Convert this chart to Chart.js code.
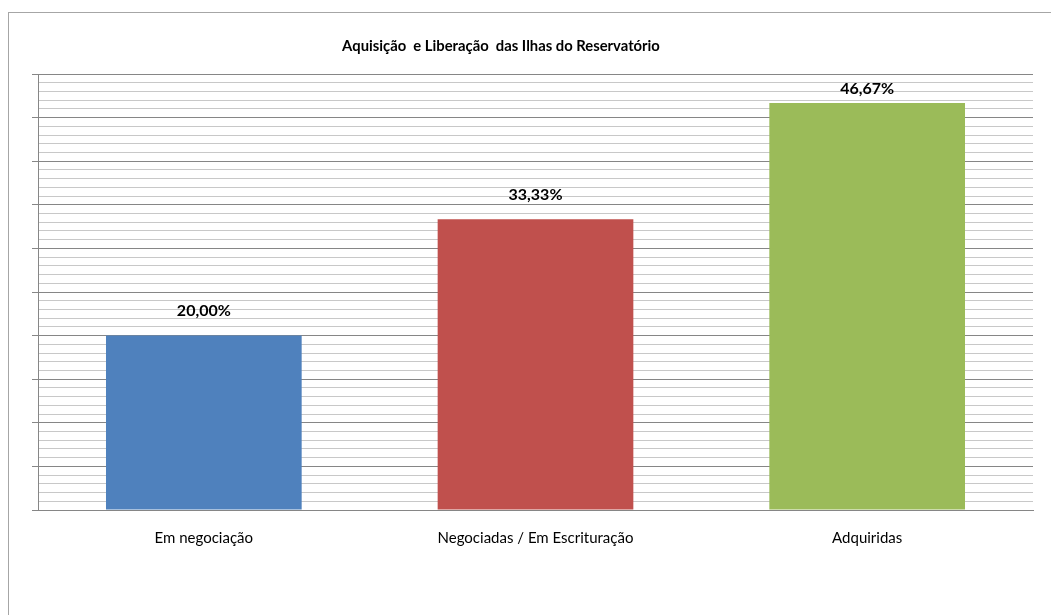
<!DOCTYPE html>
<html>
<head>
<meta charset="utf-8">
<script src="https://cdn.jsdelivr.net/npm/chart.js@4.4.1/dist/chart.umd.min.js"></script>
<style>
  html, body { margin: 0; padding: 0; background: #fff; overflow: hidden; }
  #wrap { position: relative; width: 1051px; height: 615px; }
  #frame { position: absolute; left: 8px; top: 12px; width: 1200px; height: 800px; border: 1px solid #a6a6a6; box-sizing: border-box; }
  #title { position: absolute; left: 0; width: 1002px; top: 36px; text-align: center; font-family: Lato, sans-serif; font-weight: bold; font-size: 14.8px; color: #000; white-space: pre; }
  canvas { position: absolute; left: 0; top: 0; }
</style>
</head>
<body>
<div id="wrap">
  <div id="frame"></div>
  <canvas id="c" width="1051" height="615"></canvas>
  <div id="title"></div>
</div>
<script>
const titleText = "Aquisição  e Liberação  das Ilhas do Reservatório";
const categories = ["Em negociação", "Negociadas / Em Escrituração", "Adquiridas"];
const values = [20.00, 33.33, 46.67];
const valueLabels = ["20,00%", "33,33%", "46,67%"];
const barColors = ["#4F81BD", "#C0504D", "#9BBB59"];
const yMin = 0, yMax = 50, yMinorStep = 1, yMajorStep = 5;

document.getElementById('title').textContent = titleText;

const labelPlugin = {
  id: 'valueLabels',
  afterDatasetsDraw(chart) {
    const ctx = chart.ctx;
    const meta = chart.getDatasetMeta(0);
    const area = chart.chartArea;
    ctx.save();
    ctx.font = 'bold 16px Lato, sans-serif';
    ctx.fillStyle = '#000';
    ctx.textAlign = 'center';
    ctx.textBaseline = 'middle';
    meta.data.forEach((bar, i) => {
      const y = Math.max(bar.y - 25, area.top + 15);
      ctx.fillText(valueLabels[i], bar.x, y);
    });
    ctx.restore();
  }
};

new Chart(document.getElementById('c'), {
  type: 'bar',
  data: {
    labels: categories,
    datasets: [{
      data: values,
      backgroundColor: barColors,
      borderWidth: 0,
      categoryPercentage: 1.0,
      barPercentage: 0.59
    }]
  },
  options: {
    responsive: false,
    devicePixelRatio: 1,
    animation: false,
    events: [],
    layout: { padding: { left: 32, right: 18, top: 74, bottom: 0 } },
    plugins: { legend: { display: false }, title: { display: false }, tooltip: { enabled: false } },
    scales: {
      x: {
        grid: { display: false, drawTicks: false },
        border: { display: true, color: '#868686', width: 1 },
        ticks: { padding: 19, color: '#000', font: { family: 'Lato, sans-serif', size: 15 } },
        afterFit(scale) { scale.height = 105; }
      },
      y: {
        min: yMin, max: yMax,
        ticks: { display: false, stepSize: yMinorStep },
        grid: {
          drawTicks: true,
          tickLength: 6,
          color: (c) => (c.tick && Math.round(c.tick.value) % yMajorStep === 0) ? '#868686' : '#c8c8c8',
          tickColor: (c) => (c.tick && Math.round(c.tick.value) % yMajorStep === 0) ? '#868686' : 'rgba(0,0,0,0)',
          lineWidth: 1
        },
        border: { display: true, color: '#868686', width: 1 },
        afterFit(scale) { scale.width = 6; }
      }
    }
  },
  plugins: [labelPlugin]
});
</script>
</body>
</html>
